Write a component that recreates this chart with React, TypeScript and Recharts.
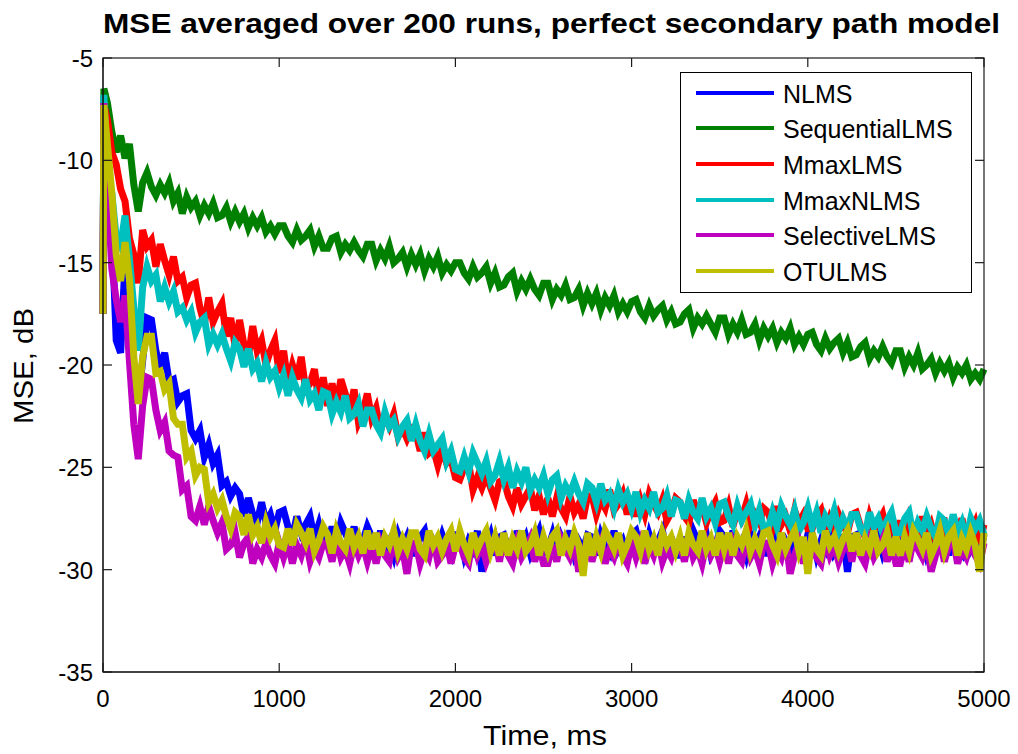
import React from 'react';
import { LineChart, Line, XAxis, YAxis, Legend } from 'recharts';

const FONT = '"Liberation Sans", Arial, Helvetica, sans-serif';

// time axis (ms): first two samples at 0 and 5 ms, then every 25 ms up to 5000 ms
const TIME_MS = [0, 5, ...Array.from({ length: 200 }, (_, i) => 25 * (i + 1))];
const X_TICKS = [0, 1000, 2000, 3000, 4000, 5000];
const Y_TICKS = [-35, -30, -25, -20, -15, -10, -5];
const X_DOMAIN: [number, number] = [0, 5000];
const Y_DOMAIN: [number, number] = [-35, -5];

const NLMS = [-17.5, -7.3,
  -9.8, -13.2, -18.8, -19.4, -15.0, -16.8, -20.3, -21.8, -19.8, -17.7,
  -17.8, -19.3, -20.2, -19.4, -20.8, -20.7, -21.8, -21.5, -21.4, -23.2,
  -23.6, -23.2, -24.5, -23.9, -24.8, -24.4, -25.9, -25.7, -26.4, -26.0,
  -26.3, -27.4, -26.5, -27.3, -27.7, -26.7, -27.7, -27.3, -28.1, -27.2,
  -27.1, -27.9, -28.4, -27.4, -28.2, -27.8, -27.4, -28.5, -27.8, -28.7,
  -28.8, -27.9, -28.7, -27.7, -28.2, -28.7, -27.9, -29.0, -28.6, -27.9,
  -28.4, -29.2, -28.1, -29.0, -28.6, -29.3, -28.3, -28.9, -28.4, -29.2,
  -29.2, -28.4, -28.1, -29.3, -28.6, -29.0, -28.3, -28.9, -29.3, -28.3,
  -28.3, -29.3, -28.6, -29.0, -28.1, -30.1, -28.9, -28.3, -29.3, -28.4,
  -28.3, -29.0, -29.3, -28.1, -28.9, -28.4, -29.2, -28.6, -28.1, -29.2,
  -29.0, -28.3, -29.3, -28.4, -28.9, -28.1, -29.2, -28.6, -29.0, -28.3,
  -28.4, -29.3, -28.3, -28.9, -29.2, -28.1, -29.0, -28.6, -29.3, -28.3,
  -28.1, -28.9, -29.3, -28.3, -29.0, -28.6, -28.1, -29.2, -28.4, -29.3,
  -29.3, -28.4, -29.2, -28.1, -28.6, -29.0, -28.3, -29.3, -28.9, -28.1,
  -28.4, -29.2, -28.1, -29.0, -28.6, -29.3, -28.3, -28.9, -28.4, -29.2,
  -29.2, -28.4, -28.1, -29.3, -28.6, -29.0, -28.3, -28.9, -29.3, -28.3,
  -28.3, -29.3, -28.6, -29.0, -28.1, -29.2, -28.9, -28.3, -30.1, -28.4,
  -28.3, -29.0, -29.3, -28.1, -28.9, -28.4, -29.2, -28.6, -28.1, -29.2,
  -29.0, -28.3, -29.3, -28.4, -28.9, -28.1, -29.2, -28.6, -29.0, -28.3,
  -28.4, -29.3, -28.3, -28.9, -29.2, -28.1, -29.0, -28.6, -29.3, -28.3];

const SEQUENTIAL_LMS = [-17.5, -6.5,
  -7.2, -8.6, -9.6, -8.8, -9.9, -9.2, -11.2, -12.5, -11.1, -10.6,
  -11.3, -11.7, -11.2, -11.6, -11.1, -12.0, -11.6, -12.6, -11.8, -12.3,
  -12.0, -12.7, -12.2, -12.6, -12.1, -12.8, -12.7, -12.3, -13.0, -12.5,
  -13.0, -12.6, -13.3, -12.8, -13.2, -12.8, -13.5, -13.2, -13.6, -13.2,
  -13.2, -13.7, -14.0, -13.4, -13.9, -13.7, -13.4, -14.2, -13.7, -14.3,
  -14.3, -13.8, -13.7, -14.5, -14.1, -14.4, -14.0, -14.4, -14.7, -14.1,
  -14.1, -14.9, -14.4, -14.8, -14.2, -15.0, -14.8, -14.5, -15.2, -14.6,
  -15.1, -14.6, -15.4, -14.8, -15.2, -14.7, -15.5, -15.1, -15.4, -15.0,
  -15.0, -15.5, -15.8, -15.2, -15.7, -15.5, -15.2, -16.0, -15.5, -16.2,
  -16.1, -15.7, -15.5, -16.4, -15.9, -16.3, -15.8, -16.3, -16.6, -16.0,
  -16.0, -16.8, -16.3, -16.6, -16.1, -16.8, -16.7, -16.3, -17.1, -16.5,
  -17.0, -16.5, -17.3, -16.7, -17.1, -16.6, -17.4, -17.0, -17.4, -16.9,
  -16.8, -17.4, -17.7, -17.1, -17.6, -17.3, -17.1, -17.8, -17.4, -18.0,
  -17.9, -17.5, -17.3, -18.2, -17.7, -18.0, -17.6, -18.0, -18.4, -17.7,
  -17.7, -18.5, -18.0, -18.4, -17.8, -18.5, -18.4, -18.0, -18.8, -18.2,
  -18.6, -18.2, -18.9, -18.4, -18.7, -18.2, -19.0, -18.6, -19.0, -18.5,
  -18.4, -19.0, -19.3, -18.7, -19.2, -18.9, -18.7, -19.4, -18.9, -19.6,
  -19.5, -19.1, -18.9, -19.7, -19.3, -19.6, -19.1, -19.6, -19.9, -19.3,
  -19.3, -20.1, -19.6, -20.0, -19.4, -20.2, -20.0, -19.7, -20.4, -19.9,
  -20.3, -19.9, -20.6, -20.1, -20.4, -20.0, -20.7, -20.4, -20.7, -20.2];

const MMAX_LMS = [-17.5, -7.3,
  -8.0, -9.6, -10.2, -11.4, -12.0, -13.8, -14.6, -16.0, -13.4, -14.2,
  -13.9, -15.2, -14.1, -14.9, -15.6, -14.7, -15.9, -15.7, -16.7, -16.1,
  -16.0, -17.2, -18.0, -16.7, -17.9, -17.4, -17.0, -18.6, -17.7, -19.1,
  -17.8, -19.0, -19.6, -18.1, -19.3, -18.8, -20.0, -19.3, -18.8, -20.4,
  -19.3, -20.9, -20.0, -20.7, -19.6, -21.2, -20.9, -20.2, -21.8, -20.6,
  -22.0, -20.9, -22.0, -20.7, -21.4, -22.2, -21.2, -22.8, -22.3, -21.4,
  -22.6, -22.1, -23.2, -22.5, -23.0, -22.4, -23.5, -23.1, -23.6, -23.1,
  -23.3, -24.2, -23.3, -24.3, -24.1, -24.9, -24.1, -24.8, -24.6, -25.5,
  -25.6, -25.0, -24.8, -26.1, -25.5, -26.0, -25.4, -26.0, -26.6, -25.7,
  -25.6, -26.4, -26.9, -26.0, -26.8, -26.4, -26.0, -27.1, -26.4, -27.3,
  -26.5, -27.4, -26.5, -27.0, -27.4, -26.4, -27.2, -26.8, -27.5, -26.4,
  -26.4, -27.3, -26.6, -27.0, -26.1, -27.1, -26.8, -26.3, -27.3, -26.5,
  -27.4, -26.6, -27.3, -26.3, -26.8, -27.2, -26.6, -27.6, -27.2, -26.5,
  -26.7, -27.4, -27.7, -26.6, -27.3, -26.9, -27.7, -27.1, -26.7, -27.7,
  -27.6, -26.9, -27.9, -27.1, -27.5, -26.8, -27.8, -27.3, -27.7, -27.0,
  -27.2, -27.9, -26.9, -27.8, -27.4, -28.1, -27.1, -27.7, -27.3, -28.0,
  -28.0, -27.4, -27.1, -28.2, -27.5, -28.0, -27.3, -27.8, -28.2, -27.3,
  -27.2, -27.9, -28.4, -27.4, -28.1, -27.7, -27.3, -28.3, -27.6, -28.5,
  -27.6, -28.5, -27.5, -28.1, -28.4, -27.4, -28.3, -27.8, -28.6, -27.6,
  -27.6, -28.6, -27.9, -28.3, -27.5, -28.5, -28.2, -27.7, -28.7, -27.8];

const MMAX_NLMS = [-17.5, -6.8,
  -11.0, -11.6, -13.8, -14.2, -12.7, -14.8, -17.2, -19.3, -16.2, -15.2,
  -15.9, -15.6, -16.9, -16.2, -16.9, -16.4, -17.4, -17.2, -17.8, -17.4,
  -18.4, -17.9, -17.7, -19.0, -18.5, -19.0, -18.5, -19.2, -19.8, -18.9,
  -19.2, -20.1, -19.2, -20.2, -19.9, -20.8, -19.9, -20.6, -20.3, -21.1,
  -20.5, -21.5, -20.6, -21.2, -21.6, -20.7, -21.7, -21.4, -22.2, -21.3,
  -21.4, -22.4, -21.8, -22.3, -21.5, -22.6, -22.4, -21.9, -23.0, -22.2,
  -22.2, -22.9, -23.3, -22.3, -23.0, -22.7, -23.5, -23.0, -22.7, -23.7,
  -22.9, -23.7, -24.2, -23.4, -24.2, -23.9, -23.6, -24.7, -24.2, -25.1,
  -25.2, -24.5, -25.2, -24.3, -24.8, -25.3, -24.7, -25.7, -25.4, -24.7,
  -25.6, -25.0, -26.0, -25.2, -25.7, -25.0, -26.1, -25.6, -26.0, -25.4,
  -26.3, -25.6, -25.4, -26.5, -25.9, -26.3, -25.7, -26.3, -26.7, -25.8,
  -26.0, -26.7, -25.8, -26.6, -26.3, -27.0, -26.1, -26.7, -26.3, -27.0,
  -26.2, -27.2, -26.6, -27.0, -26.2, -27.2, -27.0, -26.4, -27.4, -26.6,
  -26.7, -27.5, -26.6, -27.2, -27.5, -26.5, -27.4, -27.0, -27.7, -26.8,
  -26.7, -27.4, -27.8, -26.9, -27.6, -27.2, -26.8, -27.8, -27.1, -28.0,
  -28.0, -27.2, -27.9, -26.9, -27.4, -27.8, -27.1, -28.1, -27.7, -27.0,
  -27.9, -27.2, -28.2, -27.4, -27.8, -27.1, -28.1, -27.5, -28.0, -27.3,
  -27.3, -28.0, -28.3, -27.2, -27.9, -27.5, -28.2, -27.6, -27.2, -28.2,
  -28.2, -27.5, -27.2, -28.4, -27.7, -28.1, -27.4, -28.0, -28.4, -27.4,
  -27.6, -28.3, -27.3, -28.2, -27.7, -28.5, -27.5, -28.0, -27.6, -28.3];

const SELECTIVE_LMS = [-17.5, -7.2,
  -11.2, -15.3, -16.8, -17.9, -16.6, -19.8, -22.9, -24.6, -22.0, -20.6,
  -20.7, -22.2, -23.2, -22.8, -24.2, -24.4, -24.5, -26.1, -25.9, -27.4,
  -27.6, -26.9, -27.8, -26.9, -27.6, -28.2, -27.7, -29.0, -28.8, -28.2,
  -29.4, -28.7, -28.4, -29.7, -29.0, -29.4, -28.7, -29.3, -29.7, -28.7,
  -29.4, -28.7, -29.7, -28.8, -29.3, -28.5, -29.6, -29.0, -29.4, -28.7,
  -28.8, -29.6, -28.5, -29.4, -29.0, -29.7, -28.7, -29.3, -28.8, -29.6,
  -28.8, -29.7, -28.7, -29.3, -29.6, -28.5, -29.4, -29.0, -30.2, -28.7,
  -28.7, -29.7, -29.0, -29.4, -28.5, -29.6, -29.3, -28.7, -29.7, -28.8,
  -28.7, -29.4, -29.7, -28.5, -29.3, -28.8, -29.6, -29.0, -28.5, -29.6,
  -28.5, -29.3, -29.7, -28.7, -29.4, -29.0, -28.5, -29.6, -28.8, -29.7,
  -29.7, -28.8, -29.6, -28.5, -29.0, -29.4, -28.7, -30.1, -29.3, -28.5,
  -29.6, -28.8, -28.5, -29.7, -29.0, -29.4, -28.7, -29.3, -29.7, -28.7,
  -29.4, -28.7, -29.7, -28.8, -29.3, -28.5, -29.6, -29.0, -29.4, -28.7,
  -28.8, -29.6, -28.5, -29.4, -29.0, -29.7, -28.7, -29.3, -28.8, -29.6,
  -28.8, -29.7, -28.7, -29.3, -29.6, -28.5, -29.4, -29.0, -29.7, -28.7,
  -28.7, -29.7, -29.0, -29.4, -28.5, -30.2, -29.3, -28.7, -29.7, -28.8,
  -28.7, -29.4, -29.7, -28.5, -29.3, -28.8, -29.6, -29.0, -28.5, -29.6,
  -28.5, -29.3, -29.7, -28.7, -29.4, -29.0, -28.5, -29.6, -28.8, -29.7,
  -29.7, -28.8, -29.6, -28.5, -29.0, -29.4, -28.7, -30.1, -29.3, -28.5,
  -29.6, -28.8, -28.5, -29.7, -29.0, -29.4, -28.7, -29.3, -29.7, -28.7];

const OTULMS = [-17.5, -7.3,
  -9.2, -11.6, -14.6, -15.9, -14.0, -15.8, -19.6, -21.9, -19.6, -18.6,
  -18.6, -20.4, -20.3, -21.2, -20.9, -22.6, -22.9, -22.9, -24.5, -24.2,
  -25.4, -25.0, -25.1, -26.7, -26.3, -27.0, -26.6, -27.4, -28.0, -27.2,
  -27.4, -28.3, -27.3, -28.3, -27.9, -28.7, -27.7, -28.4, -28.0, -28.8,
  -28.9, -28.0, -28.8, -27.8, -28.2, -28.7, -28.0, -29.1, -28.6, -27.9,
  -28.3, -29.2, -28.1, -28.7, -29.0, -28.0, -28.9, -28.4, -29.2, -28.1,
  -29.0, -28.2, -29.3, -28.4, -28.8, -28.1, -29.1, -28.5, -29.0, -28.2,
  -28.2, -29.0, -29.3, -28.1, -28.8, -28.4, -29.1, -28.5, -28.1, -29.1,
  -28.1, -28.8, -29.3, -28.2, -29.0, -28.5, -28.1, -29.1, -28.4, -29.3,
  -28.2, -29.3, -28.5, -29.0, -28.1, -29.1, -28.8, -28.2, -29.3, -28.4,
  -29.1, -28.4, -28.1, -29.3, -28.5, -29.0, -28.2, -28.8, -30.3, -28.2,
  -29.3, -28.4, -29.1, -28.1, -28.5, -29.0, -28.2, -29.3, -28.8, -28.1,
  -28.4, -29.1, -28.1, -29.0, -28.5, -29.3, -28.2, -28.8, -28.4, -29.1,
  -28.4, -29.3, -28.2, -28.8, -29.1, -28.1, -29.0, -28.5, -29.3, -28.2,
  -29.0, -28.2, -29.3, -28.4, -28.8, -28.1, -29.1, -28.5, -29.0, -28.2,
  -28.1, -28.8, -29.3, -28.2, -29.0, -28.5, -28.1, -29.1, -28.4, -30.2,
  -28.2, -29.0, -29.3, -28.1, -28.8, -28.4, -29.1, -28.5, -28.1, -29.1,
  -28.2, -29.3, -28.5, -29.0, -28.1, -29.1, -28.8, -28.2, -29.3, -28.4,
  -29.3, -28.4, -29.1, -28.1, -28.5, -29.0, -28.2, -29.3, -28.8, -28.1,
  -29.1, -28.4, -28.1, -29.3, -28.5, -29.0, -28.2, -28.8, -30.1, -28.2];

const SERIES = [
  { key: 'nlms', name: 'NLMS', color: '#0000ff', values: NLMS },
  { key: 'seq', name: 'SequentialLMS', color: '#008000', values: SEQUENTIAL_LMS },
  { key: 'mmaxlms', name: 'MmaxLMS', color: '#ff0000', values: MMAX_LMS },
  { key: 'mmaxnlms', name: 'MmaxNLMS', color: '#00bfbf', values: MMAX_NLMS },
  { key: 'sel', name: 'SelectiveLMS', color: '#bf00bf', values: SELECTIVE_LMS },
  { key: 'otu', name: 'OTULMS', color: '#bfbf00', values: OTULMS },
];

const data = TIME_MS.map((t, i) => {
  const row: Record<string, number> = { t };
  SERIES.forEach((s) => {
    row[s.key] = s.values[i];
  });
  return row;
});

// chart geometry
const W = 1018;
const H = 754;
const MARGIN = { top: 58, right: 34, bottom: 52, left: 43 };
const Y_AXIS_W = 60;
const X_AXIS_H = 30;
const PLOT_L = MARGIN.left + Y_AXIS_W;
const PLOT_T = MARGIN.top;
const PLOT_R = W - MARGIN.right;
const PLOT_B = H - MARGIN.bottom - X_AXIS_H;
const TICK_LEN = 9;
const X_TICK_MARGIN = 18;
const Y_TICK_MARGIN = 10;

const fx = (v: number) => PLOT_L + ((v - X_DOMAIN[0]) / (X_DOMAIN[1] - X_DOMAIN[0])) * (PLOT_R - PLOT_L);
const fy = (v: number) => PLOT_B - ((v - Y_DOMAIN[0]) / (Y_DOMAIN[1] - Y_DOMAIN[0])) * (PLOT_B - PLOT_T);

function BottomTick(props: any) {
  const { x, y, payload } = props;
  return (
    <text x={x} y={y} dy={17} textAnchor="middle" fill="#000" fontSize={24} fontFamily={FONT}>
      {payload.value}
    </text>
  );
}

function LeftTick(props: any) {
  const { x, y, payload } = props;
  return (
    <text x={x} y={y} dy={9} textAnchor="end" fill="#000" fontSize={24} fontFamily={FONT}>
      {payload.value}
    </text>
  );
}

function LegendBox() {
  return (
    <div
      style={{
        position: 'relative',
        width: 292,
        height: 221,
        border: '1px solid #000',
        boxSizing: 'border-box',
        background: '#fff',
        fontFamily: FONT,
      }}
    >
      {SERIES.map((s, i) => (
        <div
          key={s.key}
          style={{ position: 'absolute', left: 0, top: 19.7 + i * 35.6 - 15, height: 30, width: '100%' }}
        >
          <div style={{ position: 'absolute', left: 15, top: 13, width: 78, height: 4, background: s.color }} />
          <span
            style={{
              position: 'absolute',
              left: 102,
              top: 1,
              fontSize: 25,
              lineHeight: '30px',
              color: '#000',
              whiteSpace: 'nowrap',
            }}
          >
            {s.name}
          </span>
        </div>
      ))}
    </div>
  );
}

const axisLine = { stroke: '#000', strokeWidth: 1 };

export default function App() {
  return (
    <div style={{ position: 'absolute', left: 0, top: 0, width: W, height: H, background: '#fff' }}>
      <LineChart width={W} height={H} data={data} margin={MARGIN}>
        <XAxis
          dataKey="t"
          type="number"
          domain={X_DOMAIN}
          ticks={X_TICKS}
          interval={0}
          tickSize={0}
          tickMargin={X_TICK_MARGIN}
          height={X_AXIS_H}
          axisLine={axisLine}
          tickLine={false}
          tick={<BottomTick />}
        />
        <YAxis
          type="number"
          domain={Y_DOMAIN}
          ticks={Y_TICKS}
          interval={0}
          tickSize={0}
          tickMargin={Y_TICK_MARGIN}
          width={Y_AXIS_W}
          axisLine={axisLine}
          tickLine={false}
          tick={<LeftTick />}
        />
        {SERIES.map((s) => (
          <Line
            key={s.key}
            dataKey={s.key}
            name={s.name}
            stroke={s.color}
            strokeWidth={7}
            dot={false}
            activeDot={false}
            isAnimationActive={false}
          />
        ))}
        <Legend
          layout="vertical"
          align="center"
          verticalAlign="middle"
          content={() => <LegendBox />}
          wrapperStyle={{ left: 680, top: 72, width: 292, height: 221 }}
        />
      </LineChart>
      <svg width={W} height={H} style={{ position: 'absolute', left: 0, top: 0, pointerEvents: 'none' }}>
        {/* axes box */}
        <rect
          x={PLOT_L}
          y={PLOT_T}
          width={PLOT_R - PLOT_L}
          height={PLOT_B - PLOT_T}
          fill="none"
          stroke="#1a1a1a"
          strokeWidth={1.2}
        />
        {/* inward tick marks on all four sides */}
        {X_TICKS.map((v) => (
          <g key={`xt${v}`} stroke="#1a1a1a" strokeWidth={1.2}>
            <line x1={fx(v)} y1={PLOT_B} x2={fx(v)} y2={PLOT_B - TICK_LEN} />
            <line x1={fx(v)} y1={PLOT_T} x2={fx(v)} y2={PLOT_T + TICK_LEN} />
          </g>
        ))}
        {Y_TICKS.map((v) => (
          <g key={`yt${v}`} stroke="#1a1a1a" strokeWidth={1.2}>
            <line x1={PLOT_L} y1={fy(v)} x2={PLOT_L + TICK_LEN} y2={fy(v)} />
            <line x1={PLOT_R} y1={fy(v)} x2={PLOT_R - TICK_LEN} y2={fy(v)} />
          </g>
        ))}
        <text
          x={551.5}
          y={33}
          textAnchor="middle"
          fontFamily={FONT}
          fontWeight="bold"
          fontSize={28}
          textLength={897}
          lengthAdjust="spacingAndGlyphs"
          fill="#000"
        >
          MSE averaged over 200 runs, perfect secondary path model
        </text>
        <text
          x={545}
          y={745}
          textAnchor="middle"
          fontFamily={FONT}
          fontSize={28}
          textLength={124}
          lengthAdjust="spacingAndGlyphs"
          fill="#000"
        >
          Time, ms
        </text>
        <text
          x={33}
          y={366}
          transform="rotate(-90 33 366)"
          textAnchor="middle"
          fontFamily={FONT}
          fontSize={28}
          textLength={116}
          lengthAdjust="spacingAndGlyphs"
          fill="#000"
        >
          MSE, dB
        </text>
      </svg>
    </div>
  );
}
